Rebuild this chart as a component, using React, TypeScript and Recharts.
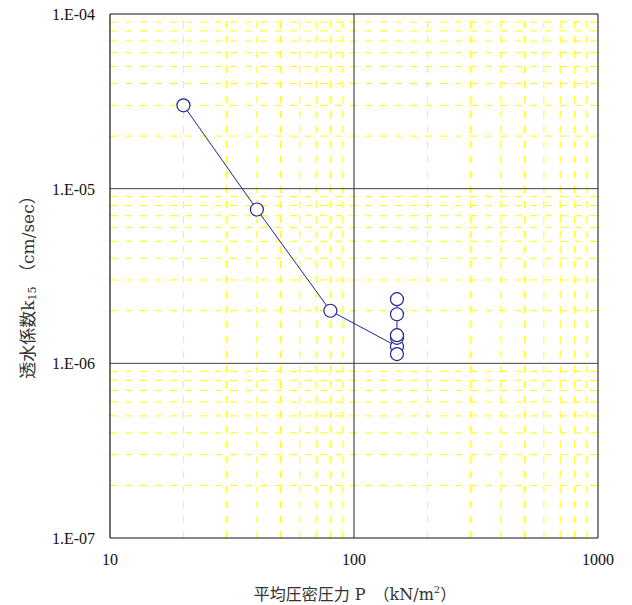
import React from 'react';
import { ScatterChart, Scatter, XAxis, YAxis, ReferenceLine, Label } from 'recharts';

// data
const pressures = [20, 40, 80, 150, 150, 150, 150, 150, 150];
const permeability = [3.0e-5, 7.6e-6, 2.0e-6, 1.25e-6, 1.13e-6, 1.4e-6, 1.45e-6, 1.91e-6, 2.33e-6];
const xTicks = [10, 100, 1000];
const yTicks = [1e-7, 1e-6, 1e-5, 1e-4];
const xMinorGrid = [20, 30, 40, 50, 60, 70, 80, 90, 200, 300, 400, 500, 600, 700, 800, 900];
const yMinorGrid = [
  2e-7, 3e-7, 4e-7, 5e-7, 6e-7, 7e-7, 8e-7, 9e-7,
  2e-6, 3e-6, 4e-6, 5e-6, 6e-6, 7e-6, 8e-6, 9e-6,
  2e-5, 3e-5, 4e-5, 5e-5, 6e-5, 7e-5, 8e-5, 9e-5,
];
const xMajorGrid = [100];
const yMajorGrid = [1e-6, 1e-5];
const xDomain = [10, 1000];
const yDomain = [1e-7, 1e-4];

const points = pressures.map((p, i) => ({ x: p, y: permeability[i] }));

const NUM_FONT = "'Liberation Serif', 'DejaVu Serif', serif";
const JP_FONT = "'DejaVu Serif', 'Noto Sans CJK JP', serif";
const NAVY = '#1f2490';

const fmtY = (v: number) => {
  const e = Math.round(Math.log10(v));
  const s = Math.abs(e).toString().padStart(2, '0');
  return `1.E${e < 0 ? '-' : '+'}${s}`;
};

const YTick = (props: any) => {
  const { x, y, payload } = props;
  return (
    <text x={x} y={y + 6} textAnchor="end" fontFamily={NUM_FONT} fontSize={16} fill="#111">
      {fmtY(payload.value)}
    </text>
  );
};

const XTick = (props: any) => {
  const { x, y, payload } = props;
  return (
    <text x={x} y={y + 13} textAnchor="middle" fontFamily={NUM_FONT} fontSize={16} fill="#111">
      {String(payload.value)}
    </text>
  );
};

const Dot = (p: any) => (
  <circle cx={p.cx} cy={p.cy} r={6.5} fill="#fff" stroke={NAVY} strokeWidth={1.2} />
);

export default function App() {
  return (
    <div style={{ position: 'absolute', left: 0, top: 0, background: '#fff' }}>
      <ScatterChart width={632} height={605} margin={{ top: 14, right: 34, bottom: 0, left: 0 }}>
        <XAxis
          type="number"
          dataKey="x"
          scale="log"
          domain={xDomain}
          ticks={xTicks}
          allowDataOverflow
          height={67}
          tickLine={false}
          axisLine={{ stroke: '#111', strokeWidth: 1.2 }}
          tick={<XTick />}
          tickMargin={8}
          interval={0}
        >
          <Label
            content={() => (
              <text x={355} y={600} textAnchor="middle" fontFamily={JP_FONT} fontSize={16} fill="#333">
                平均圧密圧力 P　（kN/m
                <tspan dy={-7} fontSize={10}>2</tspan>
                <tspan dy={7}>）</tspan>
              </text>
            )}
          />
        </XAxis>
        <YAxis
          type="number"
          dataKey="y"
          scale="log"
          domain={yDomain}
          ticks={yTicks}
          allowDataOverflow
          width={110}
          tickLine={false}
          axisLine={{ stroke: '#111', strokeWidth: 1.2 }}
          tick={<YTick />}
          tickMargin={9}
          interval={0}
        >
          <Label
            content={() => (
              <text
                x={0}
                y={0}
                transform="translate(34 283) rotate(-90)"
                textAnchor="middle"
                fontFamily={JP_FONT}
                fontSize={17}
                fill="#333"
              >
                透水係数k
                <tspan dy={2} fontSize={11}>15</tspan>
                <tspan dy={-2}> （cm/sec）</tspan>
              </text>
            )}
          />
        </YAxis>
        {xMinorGrid.map((v) => (
          <ReferenceLine key={'xm' + v} x={v} stroke="#ffff00" strokeWidth={1} strokeDasharray="7 8" />
        ))}
        {yMinorGrid.map((v) => (
          <ReferenceLine key={'ym' + v} y={v} stroke="#ffff00" strokeWidth={1} strokeDasharray="7 8" />
        ))}
        {xMajorGrid.map((v) => (
          <ReferenceLine key={'xM' + v} x={v} stroke="#555" strokeWidth={1.3} />
        ))}
        {yMajorGrid.map((v) => (
          <ReferenceLine key={'yM' + v} y={v} stroke="#444" strokeWidth={1} />
        ))}
        <ReferenceLine y={yDomain[1]} stroke="#111" strokeWidth={1.2} ifOverflow="visible" />
        <ReferenceLine x={xDomain[1]} stroke="#333" strokeWidth={1.2} ifOverflow="visible" />
        <Scatter
          data={points}
          line={{ stroke: NAVY, strokeWidth: 1 }}
          lineType="joint"
          shape={<Dot />}
          isAnimationActive={false}
        />
      </ScatterChart>
    </div>
  );
}
